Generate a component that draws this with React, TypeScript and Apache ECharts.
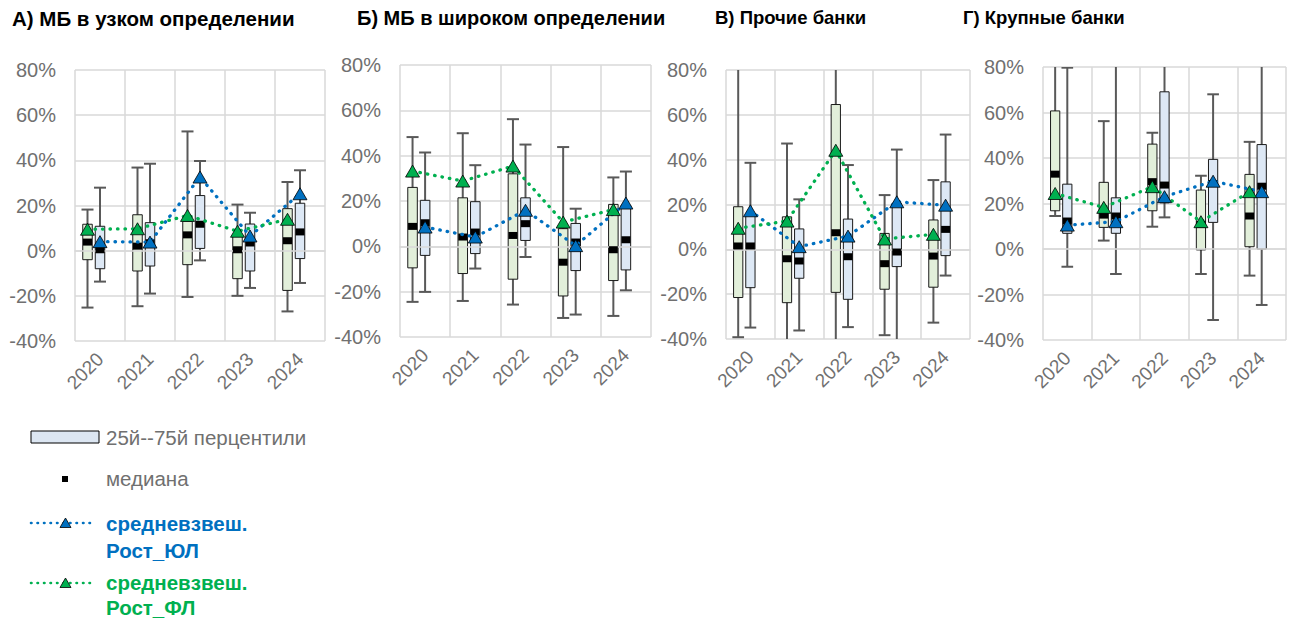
import React, { useEffect, useRef } from "react";
import * as echarts from "echarts";

const years = ["2020", "2021", "2022", "2023", "2024"];

// Rows per year: [low whisker, 25th pct, median, 75th pct, high whisker], in %
const narrowFL = [
  [-25.2, -4, 3.8, 11.7, 18.2],
  [-24.6, -9, 2, 15.9, 36.8],
  [-20.5, -6.2, 7, 13, 52.8],
  [-20, -12.4, 0.4, 6.8, 20.4],
  [-26.9, -17.6, 4.4, 18.6, 30.4],
];
const narrowUL = [
  [-13.7, -8, 0.4, 10.8, 27.9],
  [-19, -6.8, 3.5, 12.4, 38.5],
  [-4.3, 1, 11.7, 24.4, 39.7],
  [-16.5, -9, 3.4, 11.8, 16.8],
  [-14.3, -3.5, 8.3, 21, 35.6],
];
const narrowAvgFL = [9.5, 9.7, 15.6, 8.6, 13.9];
const narrowAvgUL = [4, 3.8, 32.6, 6.5, 25.2];

const broadFL = [
  [-24.5, -9.5, 8.8, 26, 48.2],
  [-24.1, -12, 4.1, 21.4, 49.9],
  [-25.7, -14.5, 4.8, 32, 56.1],
  [-31.6, -21.9, -7, 7.8, 43.8],
  [-30.7, -15.1, -1.5, 18.5, 30.4],
];
const broadUL = [
  [-20.1, -4, 10.4, 20.3, 41.4],
  [-9.8, -3.2, 6.3, 19.7, 35.8],
  [-4.7, 2.6, 10, 21.4, 44.9],
  [-30.1, -10.7, 1.9, 10.1, 16.6],
  [-19.4, -10.4, 2.9, 18, 33],
];
const broadAvgFL = [33.2, 28.8, 35.4, 10.7, 16.2];
const broadAvgUL = [8.5, 4.1, 15.9, 0.3, 19.1];

const otherFL = [
  [-39.2, -21.5, 1.5, 19, 88],
  [-44, -23.8, -4.2, 14.5, 47.2],
  [-46, -19.2, 7.4, 64.6, 90],
  [-38.3, -17.8, -6.4, 7.1, 24.2],
  [-32.7, -16.9, -3, 13.1, 30.9],
];
const otherUL = [
  [-34.9, -17.1, 1.5, 15.5, 38.6],
  [-36.2, -12.9, -5.2, 9.1, 22.3],
  [-34.7, -22.3, -3.3, 13.5, 37.6],
  [-44, -7.7, -1.2, 20.5, 44.5],
  [-11.7, -2.8, 8.9, 30.1, 51.2],
];
const otherAvgFL = [9.4, 12.6, 44.2, 4.6, 6.7];
const otherAvgUL = [17.2, 1.2, 5.9, 21.2, 19.7];

const largeFL = [
  [14.5, 16.8, 32.9, 60.7, 90],
  [3.7, 9.5, 14.9, 29.3, 56.2],
  [9.8, 16.8, 29.6, 46.1, 51.1],
  [-11, -0.4, 10.8, 25.9, 32.2],
  [-11.7, 1, 14.5, 32.8, 47.1],
];
const largeUL = [
  [-7.8, 6.9, 12.3, 28.5, 79.7],
  [-11, 6.9, 14.5, 22.5, 92],
  [13.9, 20.3, 28.1, 69.1, 95],
  [-31.2, 11.7, 28.8, 39.4, 68],
  [-24.6, 0, 27.6, 45.9, 95],
];
const largeAvgFL = [24.4, 18.3, 27.4, 12, 25.2];
const largeAvgUL = [10.5, 12, 23, 29.8, 25.2];

const panelTitles = [
  "А) МБ в узком определении",
  "Б) МБ в широком определении",
  "В) Прочие банки",
  "Г) Крупные банки",
];

const panels = [
  { fl: narrowFL, ul: narrowUL, avgFL: narrowAvgFL, avgUL: narrowAvgUL },
  { fl: broadFL, ul: broadUL, avgFL: broadAvgFL, avgUL: broadAvgUL },
  { fl: otherFL, ul: otherUL, avgFL: otherAvgFL, avgUL: otherAvgUL },
  { fl: largeFL, ul: largeUL, avgFL: largeAvgFL, avgUL: largeAvgUL },
];

// Plot-area geometry of the four panels (px)
const layout = [
  { titleLeft: 12, titleSize: 20.5, left: 75, top: 70, width: 250, height: 271 },
  { titleLeft: 357, titleSize: 20, left: 400, top: 65, width: 251, height: 272 },
  { titleLeft: 715, titleSize: 18.5, left: 726, top: 70, width: 244, height: 269 },
  { titleLeft: 963, titleSize: 18.5, left: 1043, top: 67, width: 243, height: 273 },
];

const FONT = "'Liberation Sans', Arial, sans-serif";
const GRID_COLOR = "#d9d9d9";
const LABEL_COLOR = "#707070";
const WHISKER = "#595959";
const FILL_FL = "#e2efda";
const FILL_UL = "#dde8f5";
const BLUE = "#0070C0";
const GREEN = "#00B050";

// horizontal placement of each group inside a year slot (in slot units)
const SHIFT_FL = -0.25;
const SHIFT_UL = 0;

function boxRenderer(shift: number, fill: string) {
  return (_params: any, api: any) => {
    const x = api.value(0) + 0.5 + shift;
    const low = api.coord([x, api.value(1)]);
    const q1 = api.coord([x, api.value(2)]);
    const q3 = api.coord([x, api.value(4)]);
    const high = api.coord([x, api.value(5)]);
    const band = api.size([1, 0])[0];
    const bw = band * 0.19;
    const cw = band * 0.24;
    const cx = low[0];
    return {
      type: "group",
      children: [
        {
          type: "line",
          shape: { x1: cx, y1: low[1], x2: cx, y2: high[1] },
          style: { stroke: WHISKER, lineWidth: 2 },
        },
        {
          type: "line",
          shape: { x1: cx - cw / 2, y1: low[1], x2: cx + cw / 2, y2: low[1] },
          style: { stroke: WHISKER, lineWidth: 2 },
        },
        {
          type: "line",
          shape: { x1: cx - cw / 2, y1: high[1], x2: cx + cw / 2, y2: high[1] },
          style: { stroke: WHISKER, lineWidth: 2 },
        },
        {
          type: "rect",
          shape: { x: cx - bw / 2, y: q3[1], width: bw, height: q1[1] - q3[1] },
          style: { fill, stroke: "#1a1a1a", lineWidth: 1 },
        },
      ],
    };
  };
}

function buildOption() {
  const grid: any[] = [];
  const xAxis: any[] = [];
  const yAxis: any[] = [];
  const series: any[] = [];
  const title: any[] = [];

  panels.forEach((p, k) => {
    const L = layout[k];
    grid.push({ left: L.left, top: L.top, width: L.width, height: L.height });
    title.push({
      text: panelTitles[k],
      left: L.titleLeft,
      top: 8,
      padding: 0,
      textStyle: { fontFamily: FONT, fontSize: L.titleSize, fontWeight: "bold", color: "#000" },
    });
    xAxis.push({
      type: "category",
      gridIndex: k,
      data: years,
      boundaryGap: true,
      axisLine: { show: false, onZero: false },
      axisTick: { show: false },
      splitLine: { show: true, lineStyle: { color: GRID_COLOR, width: 1.5 } },
      axisLabel: {
        rotate: 45,
        interval: 0,
        margin: 15,
        fontFamily: FONT,
        fontSize: 19,
        color: LABEL_COLOR,
      },
    });
    xAxis.push({
      type: "value",
      gridIndex: k,
      min: 0,
      max: 5,
      position: "bottom",
      axisLabel: { show: false },
      axisTick: { show: false },
      splitLine: { show: false },
      axisLine: { show: true, onZero: true, lineStyle: { color: GRID_COLOR, width: 1.5 } },
      z: 3,
    });
    yAxis.push({
      type: "value",
      gridIndex: k,
      min: -40,
      max: 80,
      interval: 20,
      axisLine: { show: false },
      axisTick: { show: false },
      splitLine: { show: true, lineStyle: { color: GRID_COLOR, width: 1.5 } },
      axisLabel: {
        formatter: "{value}%",
        margin: 19,
        fontFamily: FONT,
        fontSize: 20,
        color: LABEL_COLOR,
      },
    });

    const xi = 2 * k + 1;
    const groups = [
      { rows: p.fl, avg: p.avgFL, shift: SHIFT_FL, fill: FILL_FL, color: GREEN, name: "ФЛ" },
      { rows: p.ul, avg: p.avgUL, shift: SHIFT_UL, fill: FILL_UL, color: BLUE, name: "ЮЛ" },
    ];
    groups.forEach((g) => {
      series.push({
        type: "custom",
        name: "box " + g.name,
        xAxisIndex: xi,
        yAxisIndex: k,
        clip: true,
        z: 2,
        encode: { x: 0, y: [1, 2, 3, 4, 5] },
        data: g.rows.map((r, i) => [i, ...r]),
        renderItem: boxRenderer(g.shift, g.fill),
      });
    });
    groups.forEach((g) => {
      series.push({
        type: "scatter",
        name: "медиана " + g.name,
        xAxisIndex: xi,
        yAxisIndex: k,
        z: 4,
        symbol: "rect",
        symbolSize: [9, 7],
        itemStyle: { color: "#000", opacity: 1 },
        data: g.rows.map((r, i) => [i + 0.5 + g.shift, r[2]]),
      });
    });
    // weighted averages: blue (ЮЛ) drawn first, green (ФЛ) on top
    [groups[1], groups[0]].forEach((g) => {
      series.push({
        type: "line",
        name: "средневзвеш. " + g.name,
        xAxisIndex: xi,
        yAxisIndex: k,
        z: 5,
        symbol: "triangle",
        symbolSize: [14, 12],
        showSymbol: true,
        lineStyle: { color: g.color, width: 3.3, type: [0.5, 7], cap: "round" },
        itemStyle: { color: g.color, borderColor: "#000", borderWidth: 0.8 },
        data: g.avg.map((v, i) => [i + 0.5 + g.shift, v]),
      });
    });
  });

  const legendText = (text: string, y: number, color: string, bold: boolean) => ({
    type: "text",
    x: 106,
    y,
    style: {
      text,
      fill: color,
      font: `${bold ? "bold " : ""}20.5px ${FONT}`,
      verticalAlign: "middle",
      textAlign: "left",
    },
  });
  const legendLine = (y: number, color: string) => ({
    type: "line",
    shape: { x1: 31, y1: y, x2: 95, y2: y },
    style: { stroke: color, lineWidth: 2.6, lineDash: [0.5, 6], lineCap: "round" },
  });
  const legendTri = (y: number, color: string) => ({
    type: "polygon",
    shape: { points: [[60, y + 4.5], [71, y + 4.5], [65.5, y - 5]] },
    style: { fill: color, stroke: "#000", lineWidth: 0.8 },
  });

  const graphic = [
    {
      type: "rect",
      shape: { x: 31, y: 431, width: 68, height: 12 },
      style: { fill: "#dce6f2", stroke: "#000", lineWidth: 1 },
    },
    legendText("25й--75й перцентили", 437, LABEL_COLOR, false),
    { type: "rect", shape: { x: 62, y: 476, width: 6, height: 6 }, style: { fill: "#000" } },
    legendText("медиана", 478, LABEL_COLOR, false),
    legendLine(523, BLUE),
    legendTri(523, BLUE),
    legendText("средневзвеш.", 523, BLUE, true),
    legendText("Рост_ЮЛ", 550, BLUE, true),
    legendLine(583, GREEN),
    legendTri(583, GREEN),
    legendText("средневзвеш.", 582, GREEN, true),
    legendText("Рост_ФЛ", 607, GREEN, true),
  ];

  return {
    animation: false,
    backgroundColor: "#fff",
    textStyle: { fontFamily: FONT },
    title,
    grid,
    xAxis,
    yAxis,
    series,
    graphic,
  };
}

export default function App() {
  const ref = useRef<HTMLDivElement>(null);
  useEffect(() => {
    if (!ref.current) return;
    const chart = echarts.init(ref.current, undefined, { renderer: "svg" });
    chart.setOption(buildOption() as any);
    return () => chart.dispose();
  }, []);
  return (
    <div
      ref={ref}
      style={{ position: "fixed", left: 0, top: 0, width: 1299, height: 621 }}
    />
  );
}
